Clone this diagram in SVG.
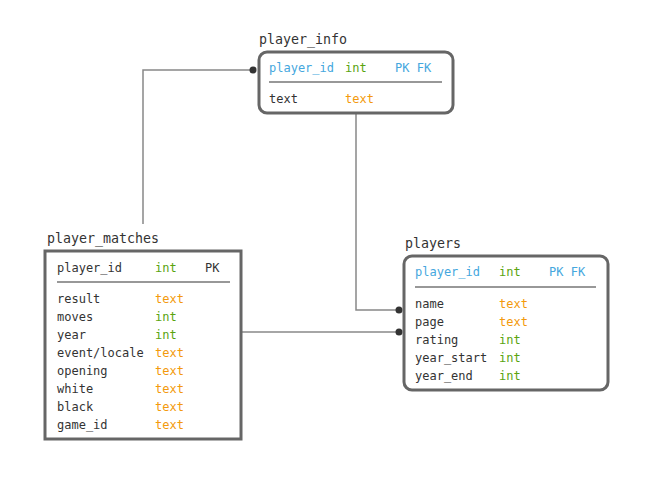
<svg xmlns="http://www.w3.org/2000/svg" width="660" height="496" viewBox="0 0 660 496">
<style>
text{font-family:"DejaVu Sans Mono","Liberation Mono",monospace;font-size:12px;fill:#333}
.title{font-size:13.3px;fill:#333}
.k{fill:#45a7de}
.i{fill:#5aa410}
.t{fill:#f39a0c}
.box{fill:#fff;stroke:#666;stroke-width:3}
.sep{stroke:#333;stroke-width:1.2}
.c{fill:none;stroke:#888;stroke-width:1.5}
.dot{fill:#333}
</style>
<rect width="660" height="496" fill="#fff"/>
<g id="connectors">
<polyline class="c" points="143,224 143,70 253,70"/>
<circle class="dot" cx="253" cy="70" r="3.5"/>
<polyline class="c" points="356,113 356,310 399,310"/>
<circle class="dot" cx="399" cy="310" r="3.5"/>
<line class="c" x1="241" y1="332" x2="399" y2="332" stroke="#666"/>
<circle class="dot" cx="399" cy="332" r="3.5"/>
</g>
<g id="player_info">
<text class="title" x="259" y="44">player_info</text>
<rect class="box" x="259" y="52" width="194" height="61" rx="8"/>
<text class="k" x="269" y="72">player_id</text><text class="i" x="345" y="72">int</text><text class="k" x="395" y="72">PK FK</text>
<line class="sep" x1="269" y1="82" x2="442" y2="82"/>
<text x="269" y="103">text</text><text class="t" x="345" y="103">text</text>
</g>
<g id="player_matches">
<text class="title" x="47" y="243">player_matches</text>
<rect class="box" x="45" y="251" width="196" height="188"/>
<text x="57" y="272">player_id</text><text class="i" x="155" y="272">int</text><text x="205" y="272">PK</text>
<line class="sep" x1="57" y1="282" x2="230" y2="282"/>
<text x="57" y="303">result</text><text class="t" x="155" y="303">text</text>
<text x="57" y="321">moves</text><text class="i" x="155" y="321">int</text>
<text x="57" y="339">year</text><text class="i" x="155" y="339">int</text>
<text x="57" y="357">event/locale</text><text class="t" x="155" y="357">text</text>
<text x="57" y="375">opening</text><text class="t" x="155" y="375">text</text>
<text x="57" y="393">white</text><text class="t" x="155" y="393">text</text>
<text x="57" y="411">black</text><text class="t" x="155" y="411">text</text>
<text x="57" y="429">game_id</text><text class="t" x="155" y="429">text</text>
</g>
<g id="players">
<text class="title" x="405" y="248">players</text>
<rect class="box" x="404" y="256" width="204" height="134" rx="8"/>
<text class="k" x="415" y="276">player_id</text><text class="i" x="499" y="276">int</text><text class="k" x="549" y="276">PK FK</text>
<line class="sep" x1="415" y1="287" x2="596" y2="287"/>
<text x="415" y="308">name</text><text class="t" x="499" y="308">text</text>
<text x="415" y="326">page</text><text class="t" x="499" y="326">text</text>
<text x="415" y="344">rating</text><text class="i" x="499" y="344">int</text>
<text x="415" y="362">year_start</text><text class="i" x="499" y="362">int</text>
<text x="415" y="380">year_end</text><text class="i" x="499" y="380">int</text>
</g>
</svg>
